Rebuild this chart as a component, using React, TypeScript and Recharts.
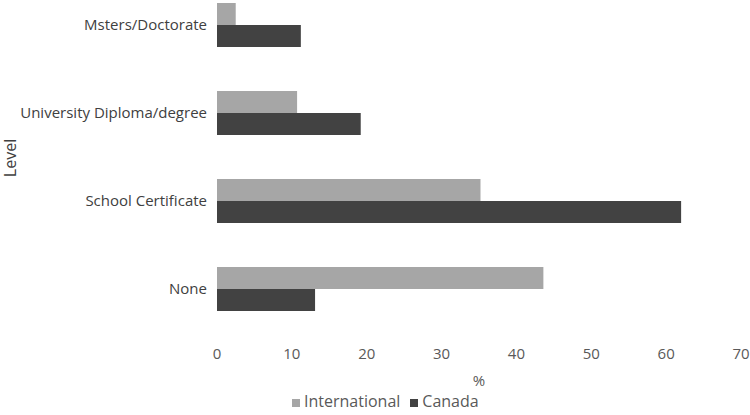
import React from 'react';
import { BarChart, Bar, XAxis, YAxis, Legend } from 'recharts';

const categories = ['Msters/Doctorate', 'University Diploma/degree', 'School Certificate', 'None'];
const international = [2.5, 10.7, 35.2, 43.6];
const canada = [11.2, 19.2, 62.0, 13.1];
const xTicks = [0, 10, 20, 30, 40, 50, 60, 70];
const seriesOrder = ['International', 'Canada'];

const data = categories.map((c, i) => ({ level: c, International: international[i], Canada: canada[i] }));

const FONT = '"Open Sans", sans-serif';
const TEXT = '#595959';

export default function App() {
  return (
    <div style={{ position: 'absolute', left: 0, top: 0, width: 750, height: 415, background: '#fff' }}>
      <BarChart
        width={750}
        height={415}
        data={data}
        layout="vertical"
        margin={{ top: -19, right: 9, bottom: 0, left: 0 }}
        barCategoryGap="25%"
        barGap={0}
      >
        <XAxis
          type="number"
          domain={[0, 70]}
          ticks={xTicks}
          axisLine={false}
          tickLine={false}
          tickMargin={9}
          height={59}
          tick={{ fill: TEXT, fontSize: 15, fontFamily: FONT }}
          label={{ value: '%', position: 'insideBottom', offset: 6, fill: TEXT, fontSize: 15, fontFamily: FONT }}
        />
        <YAxis
          type="category"
          dataKey="level"
          width={217}
          axisLine={false}
          tickLine={false}
          tickMargin={4}
          tick={{ fill: '#404040', fontSize: 15, fontFamily: FONT }}
          label={{
            content: (props: any) => {
              const vb = props.viewBox || { x: 0, y: 0, width: 0, height: 0 };
              const cx = 10;
              const cy = vb.y + vb.height / 2 + 1;
              return (
                <text
                  x={cx}
                  y={cy}
                  transform={`rotate(-90, ${cx}, ${cy})`}
                  textAnchor="middle"
                  dominantBaseline="central"
                  fill="#404040"
                  fontSize={16}
                  fontFamily={FONT}
                >
                  Level
                </text>
              );
            },
          }}
        />
        <Legend
          verticalAlign="bottom"
          align="center"
          height={23}
          iconType="square"
          iconSize={8}
          wrapperStyle={{ left: 292, width: 'auto', lineHeight: '18px' }}
          itemSorter={(item: any) => seriesOrder.indexOf(item.dataKey ?? item.value)}
          formatter={(v: string) => <span style={{ color: TEXT, fontSize: 16, fontFamily: FONT }}>{v}</span>}
        />
        <Bar dataKey="International" fill="#a6a6a6" isAnimationActive={false} />
        <Bar dataKey="Canada" fill="#424242" isAnimationActive={false} />
      </BarChart>
    </div>
  );
}
